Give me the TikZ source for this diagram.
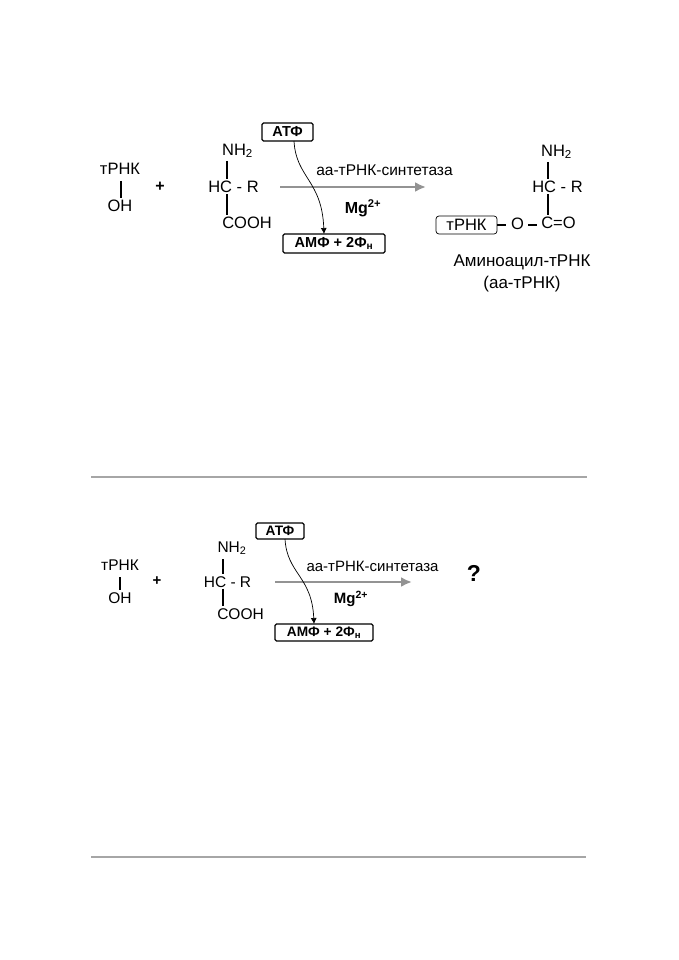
\documentclass[tikz,border=0pt]{standalone}
\usepackage{fontspec}
\setmainfont{Liberation Sans}
\usetikzlibrary{positioning, arrows.meta}
\tikzset{
	% formula text
	chem/.style={inner sep=0pt, font=\fontsize{16.5}{18}\selectfont},
	chemb/.style={inner sep=0pt, font=\fontsize{15.5}{17}\selectfont},
	% bold text
	bold/.style={inner sep=0pt, font=\fontsize{16}{18}\bfseries\selectfont},
	% small text of the reaction
	cond/.style={inner sep=0pt, font=\fontsize{15.5}{17}\selectfont},
	% boxes
	atpbox/.style={draw, line width=1.3pt, rounded corners=1.5pt, inner sep=0pt,
		font=\fontsize{14.5}{16}\bfseries\selectfont},
	trnabox/.style={draw, line width=0.7pt, rounded corners=3pt, inner sep=0pt,
		minimum width=61pt, minimum height=18pt, font=\fontsize{16.5}{18}\selectfont},
	bond/.style={line width=1.2pt, shorten >=2pt, shorten <=1pt},
	shortbond/.style={line width=1.5pt},
	flow/.style={-{Latex[length=11pt,width=10pt]}, line width=2.6pt, gray!85},
	feed/.style={-{Latex[length=6pt,width=6pt]}, line width=0.7pt},
	rulegray/.style={line width=2pt, gray!70}
}
\begin{document}
\begin{tikzpicture}[x=1pt, y=-1pt]
	\useasboundingbox (0,0) rectangle (678,960);

	%% upper reaction
	\node [chem] (trna) at (120,169) {тРНК};
	\node [chem] (oh) at (120,206) {OH};
	\node [bold] (plus) at (160,187) {+};
	\node [chem] (hcr) at (233.5,187) {HC - R};
	\node [chem] (nh) at (237.5,151) {NH\textsubscript{2}};
	\node [chem] (cooh) at (247,223) {COOH};
	\draw [bond] (121,180) coordinate (a) -- (a |- oh.north);
	\draw [bond] (227,160) coordinate (b) -- (b |- hcr.north);
	\draw [bond] (b |- hcr.south) -- (b |- cooh.north);

	\node [atpbox, minimum width=51pt, minimum height=18pt] (atp) at (287.5,132) {АТФ};
	\node [atpbox, minimum width=102pt, minimum height=19pt] (amp) at (334,243.5) {АМФ + 2Ф\textsubscript{н}};
	\coordinate (flowa) at (280,187);
	\coordinate (flowb) at (426,187);
	\draw [flow] (flowa) -- (flowb);
	\coordinate (ampin) at (324,234);
	\draw [feed] (294,141) .. controls (296,178) and (322,180) .. (ampin);
	\node [cond] (enz) at (384.5,170) {аа-тРНК-синтетаза};
	\node [bold] (mg) at (363,208) {Mg\textsuperscript{2+}};

	%% product
	\node [chem] (rhcr) at (557.5,187) {HC - R};
	\node [chem] (rnh) at (556.5,152) {NH\textsubscript{2}};
	\node [chem] (rco) at (558.5,223) {C=O};
	\node [chem] (rox) at (517.5,223.5) {O};
	\node [trnabox] (rtrna) at (466.5,225) {тРНК};
	\draw [bond] (548,161) coordinate (c) -- (c |- rhcr.north);
	\draw [bond] (c |- rhcr.south) -- (c |- rco.north);
	\draw [shortbond] (rtrna.east) -- ++(9,0) coordinate (d);
	\draw [shortbond] (528,225) coordinate (e) -- (537,225);
	\node [chem, font=\fontsize{17}{19}\selectfont] (name) at (522,262) {Аминоацил-тРНК};
	\node [chem, font=\fontsize{17}{19}\selectfont, below=6pt of name] (abbr) {(аа-тРНК)};

	\coordinate (ruleal) at (91,477);
	\coordinate (rulear) at (587,477);
	\draw [rulegray] (ruleal) -- (rulear);

	%% lower reaction
	\node [chemb] (trnb) at (120,565) {тРНК};
	\node [chemb] (ohb) at (120,598) {OH};
	\node [bold, font=\fontsize{15}{17}\bfseries\selectfont] (plusb) at (157,581) {+};
	\node [chemb] (hcrb) at (227.5,582) {HC - R};
	\node [chemb] (nhb) at (232,548) {NH\textsubscript{2}};
	\node [chemb] (coohb) at (240.5,614) {COOH};
	\draw [bond] (120,576) coordinate (f) -- (f |- ohb.north);
	\draw [bond] (223,558) coordinate (g) -- (g |- hcrb.north);
	\draw [bond] (g |- hcrb.south) -- (g |- coohb.north);

	\node [atpbox, font=\fontsize{13.7}{15}\bfseries\selectfont, minimum width=48pt, minimum height=16pt] (atpb) at (280,531) {АТФ};
	\node [atpbox, font=\fontsize{13.7}{15}\bfseries\selectfont, minimum width=98pt, minimum height=17pt] (ampb) at (324,632.5) {АМФ + 2Ф\textsubscript{н}};
	\coordinate (flowc) at (275,582);
	\coordinate (flowd) at (412,582);
	\draw [flow] (flowc) -- (flowd);
	\coordinate (ampbin) at (314,624);
	\draw [feed] (285,539) .. controls (287,574) and (312,576) .. (ampbin);
	\node [cond, font=\fontsize{15}{17}\selectfont] (enzb) at (372.5,566) {аа-тРНК-синтетаза};
	\node [bold, font=\fontsize{15}{17}\bfseries\selectfont] (mgb) at (351,599) {Mg\textsuperscript{2+}};
	\node [bold, font=\fontsize{23}{25}\bfseries\selectfont] (quest) at (474,573) {?};

	\coordinate (rulebl) at (91,856.5);
	\coordinate (rulebr) at (586,856.5);
	\draw [rulegray] (rulebl) -- (rulebr);
\end{tikzpicture}
\end{document}
